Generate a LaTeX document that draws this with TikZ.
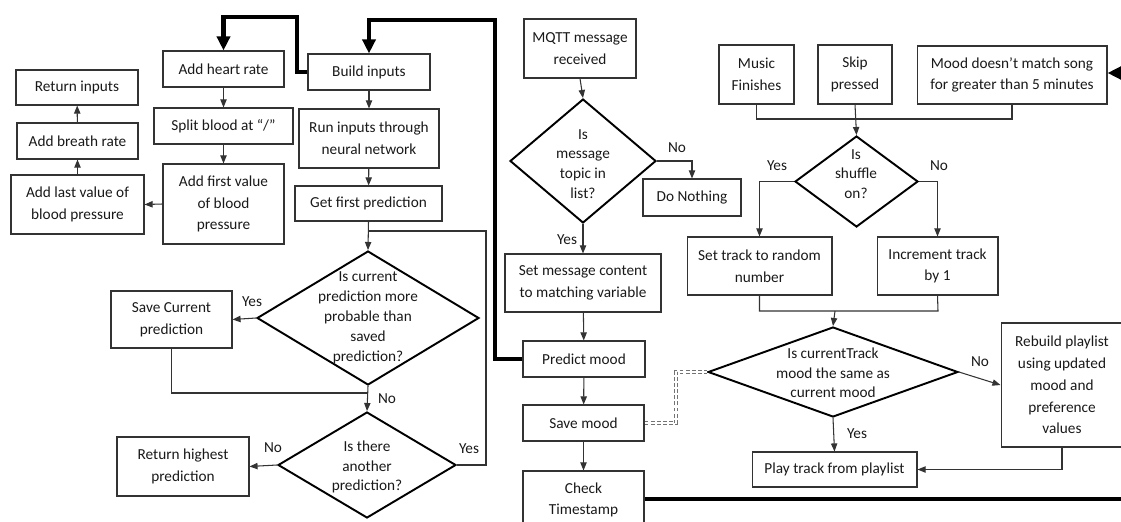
\documentclass[tikz,border=0pt]{standalone}
\usepackage{fontspec}
\setmainfont{Carlito}
\usetikzlibrary{shapes.geometric,arrows.meta}
\begin{document}
\begin{tikzpicture}[x=0.02cm,y=-0.02cm,
  every node/.style={font=\fontsize{8.7}{12.4}\selectfont, text=black!90},
  box/.style={draw=black!80, line width=0.6pt, align=center, inner sep=1pt},
  dia/.style={draw=black, line width=1.1pt, diamond, inner sep=0pt},
  dtext/.style={align=center, inner sep=0pt, font=\fontsize{8.7}{11.3}\selectfont},
  lbl/.style={inner sep=1pt},
  conn/.style={draw=black!80, line width=0.6pt},
  arr/.style={conn, -{Triangle[length=4.6pt,width=3.6pt]}},
  heavy/.style={draw=black, line width=2.3pt},
  heavyarr/.style={heavy, -{Triangle[length=8pt,width=7.4pt]}},
  dbl/.style={draw=black!55, line width=0.9pt, double=white, double distance=0.9pt, dash pattern=on 2.2pt off 1.3pt}
]
\useasboundingbox (0,0) rectangle (1121,521);
\clip (0,0) rectangle (1121,521);

% ---------- left flow ----------
\node[box, minimum width=2.44cm, minimum height=0.70cm] (ret) at (77,87.5) {Return inputs};
\node[box, minimum width=2.42cm, minimum height=0.72cm] (breath) at (77.5,141) {Add breath rate};
\node[box, minimum width=2.66cm, minimum height=1.18cm] (last) at (77.5,204.5) {Add last value of\\blood pressure};
\node[box, minimum width=2.42cm, minimum height=0.72cm] (heart) at (223.5,69) {Add heart rate};
\node[box, minimum width=2.78cm, minimum height=0.72cm] (split) at (223.5,126) {Split blood at “/”};
\node[box, minimum width=2.42cm, minimum height=1.60cm] (first) at (223.5,204) {Add first value\\of blood\\pressure};
\node[box, minimum width=2.44cm, minimum height=0.72cm] (build) at (369,72) {Build inputs};
\node[box, minimum width=2.80cm, minimum height=1.18cm] (run) at (369,138.5) {Run inputs through\\neural network};
\node[box, minimum width=2.94cm, minimum height=0.70cm] (getfirst) at (368.5,203.5) {Get first prediction};

\node[dia, minimum width=4.44cm, minimum height=2.68cm] (d1) at (368,318) {};
\node[dtext] (d1t) at (368,318) {Is current\\prediction more\\probable than\\saved\\prediction?};
\node[dia, minimum width=3.56cm, minimum height=2.12cm] (d2) at (367,465) {};
\node[dtext] (d2t) at (367,467) {Is there\\another\\prediction?};

\node[box, minimum width=2.42cm, minimum height=1.14cm] (savecur) at (171.5,319.5) {Save Current\\prediction};
\node[box, minimum width=2.64cm, minimum height=1.18cm] (rethigh) at (183,466.5) {Return highest\\prediction};

% ---------- middle flow ----------
\node[box, minimum width=2.24cm, minimum height=1.18cm] (mqtt) at (580,48.5) {MQTT message\\received};
\node[dia, minimum width=2.92cm, minimum height=2.48cm] (dmsg) at (583,161) {};
\node[dtext] (dmsgt) at (583,164) {Is\\message\\topic in\\list?};
\node[box, minimum width=1.96cm, minimum height=0.74cm] (donoth) at (692,197.5) {Do Nothing};
\node[box, minimum width=3.12cm, minimum height=1.16cm] (setmsg) at (583,283) {Set message content\\to matching variable};
\node[box, minimum width=2.44cm, minimum height=0.72cm] (predict) at (584,359) {Predict mood};
\node[box, minimum width=2.42cm, minimum height=0.72cm] (savemood) at (583.5,423) {Save mood};
\node[box, minimum width=2.42cm, minimum height=1.16cm] (check) at (583.5,500) {Check\\Timestamp};

% ---------- right flow ----------
\node[box, minimum width=1.50cm, minimum height=1.18cm] (music) at (756.5,74.5) {Music\\Finishes};
\node[box, minimum width=1.48cm, minimum height=1.18cm] (skip) at (855,74.5) {Skip\\pressed};
\node[box, minimum width=3.80cm, minimum height=1.16cm] (mooddn) at (1012,75) {Mood doesn’t match song\\for greater than 5 minutes};
\node[dia, minimum width=2.46cm, minimum height=1.82cm] (dshuf) at (856.5,181.5) {};
\node[dtext] (dshuft) at (856,174) {Is\\shuffle\\on?};
\node[box, minimum width=2.90cm, minimum height=1.16cm] (settrack) at (759.5,266) {Set track to random\\number};
\node[box, minimum width=2.42cm, minimum height=1.16cm] (incr) at (937.5,266) {Increment track\\by 1};
\node[dia, minimum width=5.00cm, minimum height=1.80cm] (dcur) at (833,372) {};
\node[dtext, font=\fontsize{8.7}{11}\selectfont] (dcurt) at (833,373) {Is currentTrack\\mood the same as\\current mood};
\node[box, minimum width=2.44cm, minimum height=2.48cm] (rebuild) at (1062,385) {Rebuild playlist\\using updated\\mood and\\preference\\values};
\node[box, minimum width=3.30cm, minimum height=0.70cm] (play) at (834.5,469.5) {Play track from playlist};

% ---------- connectors: left ----------
\draw[arr] (heart) -- (split);
\draw[arr] (split) -- (first);
\draw[arr] (first.west) -- (last.east);
\draw[arr] (last) -- (breath);
\draw[arr] (breath) -- (ret);
\draw[heavyarr] (build.west) -| (297,17) -| (heart.north);
\draw[arr] (build) -- (run);
\draw[arr] (run) -- (getfirst);
\draw[arr] (getfirst.south) -- (d1.north);
\draw[arr] (d1.west) -- (savecur.east);
\node[lbl] (y1) at (252,302) {Yes};
\draw[conn] (savecur.south) |- (368,393);
\draw[arr] (d1.south) -- (d2.north);
\node[lbl] (n1) at (387,399) {No};
\draw[conn] (d2.east) -| (486,231) -- (368,231);
\node[lbl] (y2) at (469,449) {Yes};
\draw[arr] (d2.west) -- (rethigh.east);
\node[lbl] (n2) at (273,448) {No};

% ---------- connectors: middle ----------
\draw[heavyarr] (predict.west) -| (495,20) -| (build.north);
\draw[arr] (mqtt.south) -- (dmsg.north);
\draw[arr] (dmsg.east) -| (donoth.north);
\node[lbl] (n3) at (677,148) {No};
\draw[arr] (dmsg.south) -- (setmsg.north);
\node[lbl] (y3) at (567,240) {Yes};
\draw[arr] (setmsg) -- (predict);
\draw[arr] (predict) -- (savemood);
\draw[arr] (savemood) -- (check);
\draw[heavy] (check.east |- 0,499) -- (1140,499) -- (1140,73);
\draw[heavyarr] (1140,73) -- (mooddn.east |- 0,73);
\draw[dbl] (savemood.east) -- (676,423) |- (dcur.west);

% ---------- connectors: right ----------
\draw[conn] (music.south) |- (1012,119) -- (mooddn.south);
\draw[arr] (skip.south) -- (dshuf.north);
\draw[arr] (dshuf.west) -| (settrack.north);
\node[lbl] (y4) at (777,166) {Yes};
\draw[arr] (dshuf.east) -| (incr.north);
\node[lbl] (n4) at (939,166) {No};
\draw[conn] (settrack.south) |- (938,311) -- (incr.south);
\draw[arr] (835,311) -- (dcur.north);
\draw[arr] (dcur.east) -- (rebuild.west);
\node[lbl] (n5) at (980,362) {No};
\draw[arr] (dcur.south) -- (play.north);
\node[lbl] (y5) at (857,434) {Yes};
\draw[arr] (rebuild.south) |- (play.east);
\end{tikzpicture}
\end{document}
